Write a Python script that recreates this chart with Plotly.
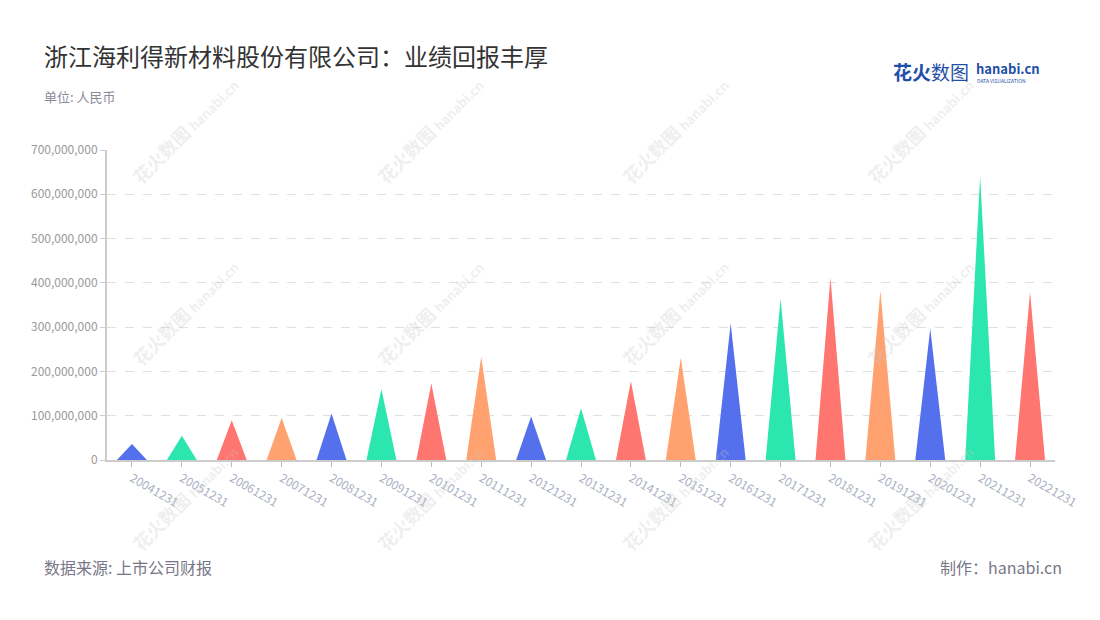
import plotly.graph_objects as go

categories = ["20041231", "20051231", "20061231", "20071231", "20081231", "20091231",
              "20101231", "20111231", "20121231", "20131231", "20141231", "20151231",
              "20161231", "20171231", "20181231", "20191231", "20201231", "20211231",
              "20221231"]
values = [36e6, 55e6, 90e6, 95e6, 105e6, 160e6, 173e6, 233e6, 98e6, 117e6,
          178e6, 231e6, 309e6, 364e6, 412e6, 382e6, 297e6, 641e6, 379e6]
palette = ["#5470ed", "#2ce6b0", "#ff7570", "#ffa26f"]

title = "浙江海利得新材料股份有限公司：业绩回报丰厚"
subtitle = "单位: 人民币"
source = "数据来源: 上市公司财报"
maker = "制作：hanabi.cn"

FONT = "Noto Sans CJK SC, Noto Sans, sans-serif"
half = 0.3

W, H = 1100, 620
ML, MR, MT, MB = 107, 45, 150, 160
PW, PH = W - ML - MR, H - MT - MB


def px(x):
    return (x - ML) / PW


def py(y):
    return (H - MB - y) / PH


fig = go.Figure()
for i, (c, v) in enumerate(zip(categories, values)):
    fig.add_trace(go.Scatter(
        x=[i - half, i, i + half, i - half],
        y=[0, v, 0, 0],
        mode="lines",
        fill="toself",
        fillcolor=palette[i % 4],
        line=dict(width=0, color=palette[i % 4]),
        hoverinfo="text",
        text=f"{c}: {v:,.0f}",
        showlegend=False,
    ))

annotations = []
# watermarks
for wx in [185, 430, 675, 920]:
    for wy in [130, 312, 497]:
        annotations.append(dict(
            x=px(wx), y=py(wy), xref="paper", yref="paper", xanchor="center", yanchor="middle",
            text="<b>花火数图</b> <b><span style='font-size:13px'>hanabi.cn</span></b>",
            showarrow=False, textangle=-45,
            font=dict(family=FONT, size=18, color="rgba(200,200,200,0.3)"),
        ))

annotations += [
    dict(x=px(44), y=py(55), xref="paper", yref="paper", xanchor="left", yanchor="middle", xshift=-2,
         text=title, showarrow=False, font=dict(family=FONT, size=24, color="#333333")),
    dict(x=px(44), y=py(96), xref="paper", yref="paper", xanchor="left", yanchor="middle", xshift=-2,
         text=subtitle, showarrow=False, font=dict(family=FONT, size=13, color="#8a8a99")),
    dict(x=px(44), y=py(567), xref="paper", yref="paper", xanchor="left", yanchor="middle", xshift=-2,
         text=source, showarrow=False, font=dict(family=FONT, size=16, color="#777788")),
    dict(x=px(1062), y=py(567), xref="paper", yref="paper", xanchor="right", yanchor="middle", xshift=2,
         text=maker, showarrow=False, font=dict(family=FONT, size=16, color="#777788")),
    # logo
    dict(x=px(893), y=py(72), xref="paper", yref="paper", xanchor="left", yanchor="middle", xshift=-2,
         text="<b>花火</b>数图", showarrow=False, font=dict(family=FONT, size=19, color="#1f4fa8")),
    dict(x=px(974), y=py(68), xref="paper", yref="paper", xanchor="left", yanchor="middle",
         text="<b>hanabi.cn</b>", showarrow=False, font=dict(family=FONT, size=13, color="#1f4fa8")),
    dict(x=px(975), y=py(81), xref="paper", yref="paper", xanchor="left", yanchor="middle",
         text="DATA VISUALIZATION", showarrow=False, font=dict(family=FONT, size=5, color="#1f4fa8")),
]

fig.update_layout(
    width=W, height=H,
    paper_bgcolor="white", plot_bgcolor="white",
    margin=dict(l=ML, r=MR, t=MT, b=MB, autoexpand=False),
    font=dict(family=FONT),
    annotations=annotations,
    xaxis=dict(
        range=[-0.5, len(categories) - 0.5],
        tickmode="array", tickvals=list(range(len(categories))), ticktext=categories,
        tickangle=30, tickfont=dict(size=12, color="#aab0c4", family=FONT),
        showgrid=False, zeroline=False,
        showline=True, linecolor="#cccccc", linewidth=2,
        ticks="outside", ticklen=5, tickcolor="#bbbbbb",
        fixedrange=True,
    ),
    yaxis=dict(
        range=[0, 700e6], tickmode="array",
        tickvals=[0, 100e6, 200e6, 300e6, 400e6, 500e6, 600e6, 700e6],
        tickformat=",d", tickfont=dict(size=12, color="#999999", family=FONT),
        showgrid=True, gridcolor="#e0e0e0", griddash="dash", gridwidth=1,
        zeroline=False, showline=True, linecolor="#cccccc", linewidth=2,
        ticks="outside", ticklen=5, tickcolor="#cccccc",
        fixedrange=True,
    ),
)

fig.write_html("out.html", config={"displayModeBar": False},
               post_script="document.body.style.margin='0px';")
